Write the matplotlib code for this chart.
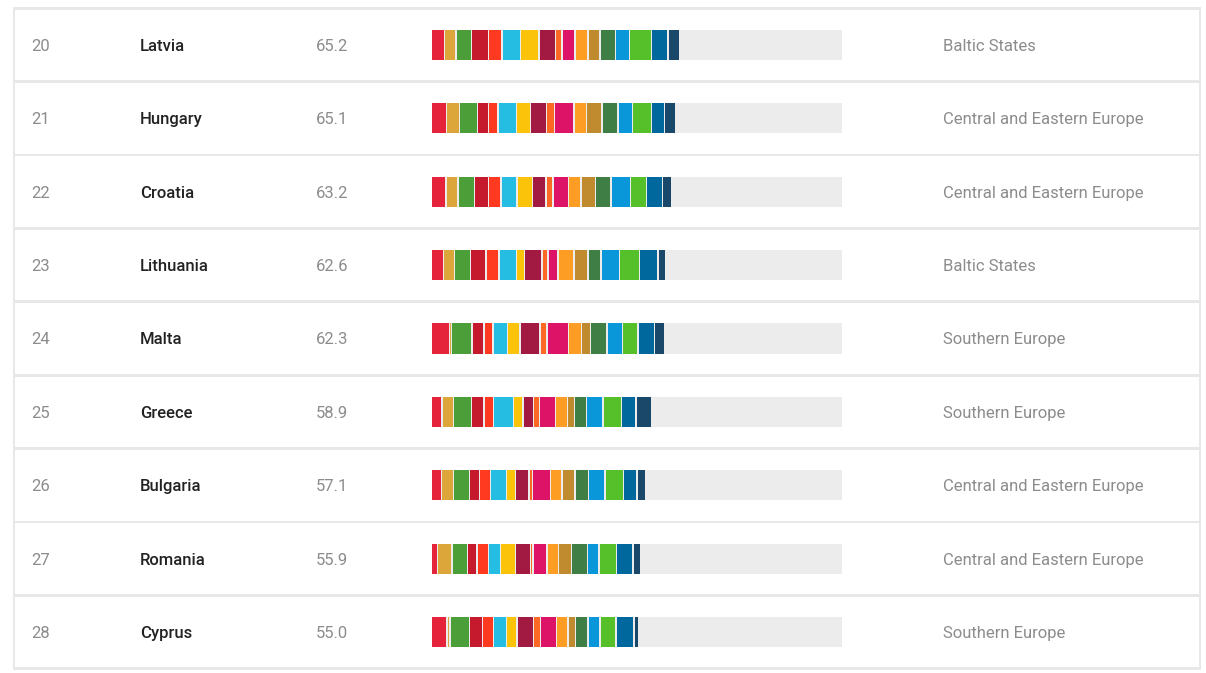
import matplotlib
matplotlib.use("Agg")
import matplotlib.pyplot as plt
from matplotlib.patches import Rectangle

plt.rcParams['font.family'] = ['Roboto', 'DejaVu Sans']

ranks = [20, 21, 22, 23, 24, 25, 26, 27, 28]
countries = ['Latvia', 'Hungary', 'Croatia', 'Lithuania', 'Malta',
             'Greece', 'Bulgaria', 'Romania', 'Cyprus']
index_scores = [65.2, 65.1, 63.2, 62.6, 62.3, 58.9, 57.1, 55.9, 55.0]
regions = ['Baltic States', 'Central and Eastern Europe', 'Central and Eastern Europe',
           'Baltic States', 'Southern Europe', 'Southern Europe',
           'Central and Eastern Europe', 'Central and Eastern Europe', 'Southern Europe']

# SDG goal colours 1..17
goal_colors = ['#E5243B', '#DDA63A', '#4C9F38', '#C5192D', '#FF3A21', '#26BDE2',
               '#FCC30B', '#A21942', '#FD6925', '#DD1367', '#FD9D24', '#BF8B2E',
               '#3F7E44', '#0A97D9', '#56C02B', '#00689D', '#19486A']

# goal scores (0-100 each)
latvia    = [54, 48, 64, 72, 55, 78, 75, 68, 28, 53, 54, 50, 64, 60, 89, 69, 51]
hungary   = [62, 54, 76, 46, 39, 76, 58, 66, 33, 82, 51, 64, 68, 60, 78, 53, 48]
croatia   = [61, 50, 68, 58, 53, 65, 64, 57, 28, 64, 53, 61, 64, 79, 68, 65, 37]
lithuania = [51, 46, 66, 64, 54, 72, 33, 73, 25, 42, 66, 57, 54, 78, 83, 76, 32]
malta     = [76, 8, 84, 51, 37, 60, 51, 83, 29, 91, 54, 37, 68, 65, 64, 68, 44]
greece    = [44, 48, 75, 51, 39, 84, 40, 42, 26, 65, 51, 28, 51, 68, 76, 60, 66]
bulgaria  = [42, 51, 65, 43, 44, 68, 37, 55, 14, 75, 48, 53, 57, 68, 78, 55, 35]
romania   = [26, 60, 64, 40, 47, 51, 61, 62, 11, 58, 47, 55, 65, 48, 73, 69, 33]
cyprus    = [65, 12, 82, 53, 47, 53, 43, 69, 28, 68, 47, 32, 51, 50, 65, 75, 21]
goal_rows = [latvia, hungary, croatia, lithuania, malta, greece, bulgaria, romania, cyprus]

W, H = 1206, 673
fig = plt.figure(figsize=(W / 100, H / 100), dpi=100)
ax = fig.add_axes([0, 0, 1, 1])
ax.set_xlim(0, W)
ax.set_ylim(H, 0)
ax.axis('off')

top0 = 8.3
pitch = 73.375
n = len(countries)

# table frame and row cards
ax.add_patch(Rectangle((13, top0 - 1.5), 1188, pitch * n + 3, color='#e8e8e8', lw=0))
for i in range(n):
    y0 = top0 + pitch * i
    ax.add_patch(Rectangle((15, y0 + 1.4), 1184, pitch - 2.8, color='white', lw=0))
    yc = y0 + pitch / 2 + 1.5
    ax.text(31, yc, str(ranks[i]), fontsize=12, color='#8c8c8c', va='center')
    ax.text(140, yc, countries[i], fontsize=12, color='#222222', va='center',
            fontweight='medium')
    ax.text(316, yc, f'{index_scores[i]:.1f}', fontsize=12, color='#8c8c8c', va='center')
    ax.text(943, yc, regions[i], fontsize=12, color='#8c8c8c', va='center')

# bars
bx = fig.add_axes([432 / W, 1 - (top0 + pitch * n) / H, 410 / W, pitch * n / H])
bx.set_xlim(0, 1700)
bx.set_ylim(n - 0.5, -0.5)
bx.axis('off')
bx.patch.set_alpha(0)

bar_h = 0.41
gap = 6
bx.barh(range(n), [1700] * n, height=bar_h, color='#ececec', lw=0)
for i, row in enumerate(goal_rows):
    left = 0
    for g, v in enumerate(row):
        bx.barh(i, v - gap, left=left, height=bar_h, color=goal_colors[g], lw=0)
        left += v

fig.savefig('out.png', dpi=100)
